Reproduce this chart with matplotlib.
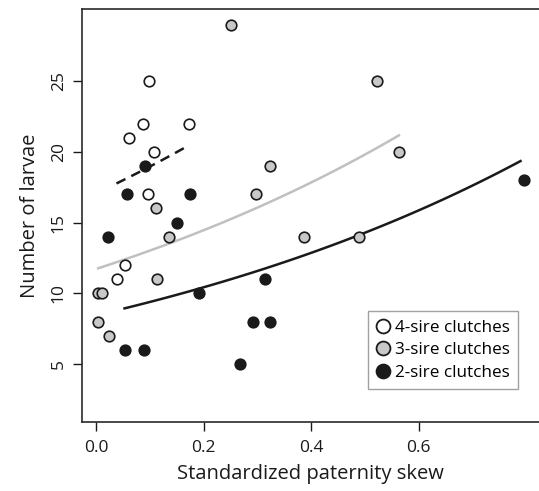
import numpy as np
import matplotlib
matplotlib.use('Agg')
import matplotlib.pyplot as plt
from matplotlib.lines import Line2D

plt.rcParams['font.family'] = ['Open Sans', 'DejaVu Sans']

# 4-sire clutches
x4 = [0.099, 0.088, 0.173, 0.061, 0.108, 0.097, 0.053, 0.039]
y4 = [25, 22, 22, 21, 20, 17, 12, 11]
# 3-sire clutches
x3 = [0.251, 0.522, 0.564, 0.323, 0.297, 0.111, 0.136, 0.387, 0.488,
      0.113, 0.004, 0.011, 0.004, 0.025]
y3 = [29, 25, 20, 19, 17, 16, 14, 14, 14, 11, 10, 10, 8, 7]
# 2-sire clutches
x2 = [0.091, 0.058, 0.175, 0.151, 0.022, 0.192, 0.315, 0.291, 0.323,
      0.054, 0.089, 0.268, 0.796]
y2 = [19, 17, 17, 15, 14, 10, 11, 8, 8, 6, 6, 5, 18]

# fitted log-linear model (common slope), intercepts per sire number
slope = 1.05
icpt4, icpt3, icpt2 = 17.07, 11.72, 8.45
rng4 = (0.038, 0.165)
rng3 = (0.004, 0.563)
rng2 = (0.053, 0.789)

fig = plt.figure(figsize=(5.39, 4.91), dpi=100)
ax = fig.add_axes([81.5/539, 1 - 421.7/491, 1 - 81.5/539, (421.7 - 9.3)/491])

def fit(icpt, r):
    xx = np.linspace(r[0], r[1], 100)
    return xx, icpt * np.exp(slope * xx)

xx, yy = fit(icpt3, rng3)
ax.plot(xx, yy, color='#c0c0c0', lw=1.8, zorder=2)
xx, yy = fit(icpt2, rng2)
ax.plot(xx, yy, color='#1a1a1a', lw=1.8, zorder=2)
xx, yy = fit(icpt4, rng4)
ax.plot(xx, yy, color='#1a1a1a', lw=1.8, ls=(0, (4, 2.6)), zorder=2)

kw = dict(s=58, edgecolors='#1a1a1a', linewidths=1.2, zorder=3)
ax.scatter(x4, y4, facecolors='white', **kw)
ax.scatter(x3, y3, facecolors='#c8c8c8', **kw)
ax.scatter(x2, y2, facecolors='#1a1a1a', **kw)

ax.set_xlim(-0.027, 0.8234)
ax.set_ylim(0.92, 30.08)
ax.set_xticks([0, 0.2, 0.4, 0.6])
ax.set_xticklabels(['0.0', '0.2', '0.4', '0.6'])
ax.set_yticks([5, 10, 15, 20, 25])
for lab in ax.get_yticklabels():
    lab.set_rotation(90)
    lab.set_va('center')
ax.tick_params(direction='out', length=6.5, width=1.0, labelsize=12.5, color='#1a1a1a',
               labelcolor='#1a1a1a')
ax.tick_params(axis='x', pad=6.5)
ax.tick_params(axis='y', pad=4)
ax.spines['right'].set_visible(False)
for s in ['left', 'top', 'bottom']:
    ax.spines[s].set_linewidth(1.2)
    ax.spines[s].set_color('#2a2a2a')

ax.set_xlabel('Standardized paternity skew', fontsize=14.5, color='#1a1a1a', labelpad=6)
ax.set_ylabel('Number of larvae', fontsize=14.5, color='#1a1a1a', labelpad=8)

handles = [
    Line2D([], [], ls='none', marker='o', ms=10, mfc='white', mec='#1a1a1a', mew=1.3),
    Line2D([], [], ls='none', marker='o', ms=10, mfc='#c8c8c8', mec='#1a1a1a', mew=1.3),
    Line2D([], [], ls='none', marker='o', ms=10, mfc='#1a1a1a', mec='#1a1a1a', mew=1.3),
]
leg = ax.legend(handles, ['4-sire clutches', '3-sire clutches', '2-sire clutches'],
                loc='upper left', fontsize=12.3,
                frameon=True, fancybox=False, handlelength=0.8, handletextpad=0.3,
                labelspacing=0.38, borderpad=0.5, borderaxespad=0)
leg.get_frame().set_edgecolor('#8a8a8a')
leg.get_frame().set_linewidth(1.0)
# legend box: top-left at (367.7, 311) px
leg.set_bbox_to_anchor(((367.7 - 81.5) / (539 - 81.5), (421.7 - 311) / (421.7 - 9.3)),
                       transform=ax.transAxes)

fig.savefig('out.png', dpi=100)
